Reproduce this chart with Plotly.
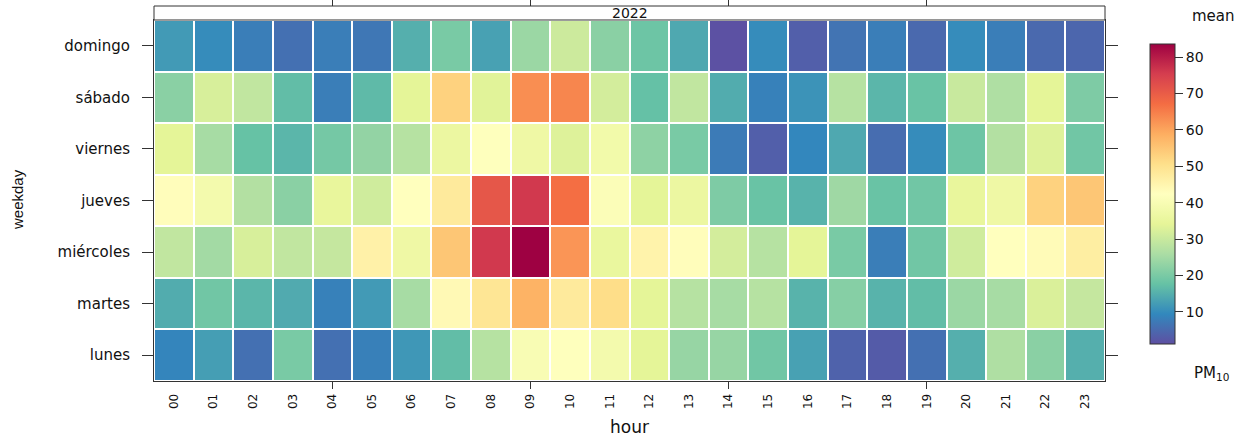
import plotly.graph_objects as go

hours = ["%02d" % h for h in range(24)]
weekdays = ["lunes", "martes", "miércoles", "jueves", "viernes", "sábado", "domingo"]

# mean PM10 by hour, one list per weekday
lunes = [9, 12.5, 6, 20, 6, 8.3, 11.5, 17, 27.5, 40, 42, 38.5, 34, 23.5,
         23.5, 19, 13, 4, 3, 6, 15, 26.5, 22, 15]
martes = [14.5, 19, 16, 14.3, 8.5, 12, 25.5, 44, 49, 58, 48, 51, 34, 27.5,
          25.5, 27.5, 15.5, 21.5, 15.5, 17, 24, 25.5, 32.5, 29.5]
miercoles = [29, 25, 32, 29, 29.5, 46, 37, 55, 76, 83.6, 62, 35.5, 45.5, 43,
             31.5, 27.5, 34, 20, 8, 19, 31, 42.5, 43.5, 47]
jueves = [43, 38.5, 27, 22, 35, 31, 42.5, 48, 71, 76, 67, 41, 34, 36,
          20.5, 18, 15.5, 24.5, 18, 19, 35, 37, 53, 55]
viernes = [34, 25.5, 17.7, 16, 19.5, 23, 27.5, 36, 42, 37, 33, 38, 22.5, 20,
           7.5, 3.5, 9.3, 14, 5.5, 10, 18.5, 27, 33, 19]
sabado = [22, 32, 29, 17, 8, 16.5, 34, 53, 33.5, 63, 64, 31.5, 17.5, 29,
          14.5, 8.5, 11, 27.5, 16, 18, 30, 26.5, 34, 20.5]
domingo = [12, 10, 8, 6, 8, 7, 15, 20, 13, 24, 30.5, 22, 18.5, 14,
           1.5, 10, 3.5, 6.5, 8, 5, 10, 8, 5, 4.5]

z = [lunes, martes, miercoles, jueves, viernes, sabado, domingo]

font = "DejaVu Sans, Verdana, sans-serif"
frame = "#333333"
dom_top = 0.9627

fig = go.Figure()

fig.add_trace(go.Heatmap(
    z=z,
    x=list(range(24)),
    y=list(range(7)),
    colorscale="Spectral_r",
    zmin=1.2,
    zmax=83.6,
    xgap=2,
    ygap=2,
    colorbar=dict(
        x=1.047, xanchor="left", xpad=0,
        y=0.4987, yanchor="middle", ypad=0,
        len=300, lenmode="pixels",
        thickness=25,
        outlinecolor=frame, outlinewidth=1,
        ticks="outside", ticklen=8, tickcolor=frame,
        tickvals=[10, 20, 30, 40, 50, 60, 70, 80],
        tickfont=dict(size=14, color="#111"),
    ),
    hovertemplate="hour: %{x}<br>weekday: %{y}<br>PM10: %{z}<extra></extra>",
))

# trazas vacias para los ejes extra de ticks
fig.add_trace(go.Scatter(x=[None], y=[None], xaxis="x2", yaxis="y2", showlegend=False))
fig.add_trace(go.Scatter(x=[None], y=[None], xaxis="x3", yaxis="y2", showlegend=False))

fig.update_layout(
    width=1245,
    height=439,
    margin=dict(l=154, r=140, t=6, b=58, autoexpand=False),
    paper_bgcolor="white",
    plot_bgcolor="white",
    font=dict(family=font, color="#111"),
    showlegend=False,
    xaxis=dict(
        range=[-0.5, 23.5],
        tickvals=list(range(24)),
        ticktext=hours,
        tickangle=-90,
        ticks="",
        ticklabelstandoff=7,
        tickfont=dict(size=12),
        showgrid=False, zeroline=False, automargin=False,
        showline=True, mirror=True, linecolor=frame, linewidth=1,
    ),
    xaxis2=dict(
        overlaying="x", anchor="y", side="bottom",
        range=[-0.5, 23.5],
        tickvals=[4, 9, 14, 19],
        ticks="outside", ticklen=7, tickcolor=frame,
        showticklabels=False, showgrid=False, zeroline=False, automargin=False,
    ),
    xaxis3=dict(
        overlaying="x", anchor="free", position=1, side="top",
        range=[-0.5, 23.5],
        tickvals=[4, 9, 14, 19],
        ticks="outside", ticklen=6, tickcolor=frame,
        showticklabels=False, showgrid=False, zeroline=False, automargin=False,
    ),
    yaxis=dict(
        domain=[0, dom_top],
        range=[-0.5, 6.5],
        tickvals=list(range(7)),
        ticktext=weekdays,
        ticks="outside", ticklen=11, tickcolor=frame,
        ticklabelstandoff=9,
        tickfont=dict(size=15),
        showgrid=False, zeroline=False, automargin=False,
        showline=True, mirror=True, linecolor=frame, linewidth=1,
    ),
    yaxis2=dict(
        overlaying="y", anchor="x", side="right",
        range=[-0.5, 6.5],
        tickvals=list(range(7)),
        ticks="outside", ticklen=12, tickcolor=frame,
        showticklabels=False, showgrid=False, zeroline=False, automargin=False,
    ),
    shapes=[dict(
        type="rect", xref="paper", yref="paper",
        x0=0, x1=1, y0=dom_top, y1=1,
        line=dict(color=frame, width=1), fillcolor="white", layer="above",
    )],
    annotations=[
        dict(text="2022", xref="paper", yref="paper", x=0.5, y=(dom_top + 1) / 2,
             showarrow=False, font=dict(size=14), yanchor="middle"),
        dict(text="weekday", xref="paper", yref="paper", x=-0.143, y=0.4827,
             textangle=-90, showarrow=False,
             font=dict(size=15, family="Liberation Sans, Arial, sans-serif"),
             xanchor="center", yanchor="middle"),
        dict(text="hour", xref="paper", yref="paper", x=0.5005, y=-0.1227,
             showarrow=False, font=dict(size=17), xanchor="center", yanchor="middle"),
        dict(text="mean", xref="paper", yref="paper", x=1.1136, y=0.973,
             showarrow=False, font=dict(size=15), xanchor="center", yanchor="middle"),
        dict(text="PM<sub>10</sub>", xref="paper", yref="paper", x=1.1125, y=0.021,
             showarrow=False, font=dict(size=15), xanchor="center", yanchor="middle"),
    ],
)

fig.write_html("out.html", config={"displayModeBar": False},
               post_script="document.body.style.margin = '0';")
